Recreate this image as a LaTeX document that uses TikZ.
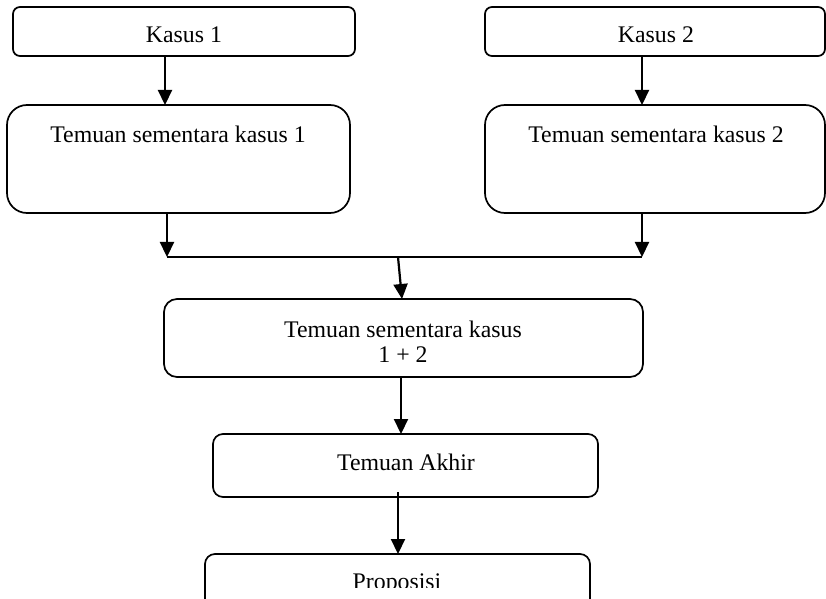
\documentclass[tikz,border=0pt]{standalone}
\usepackage{fontspec}
\setmainfont{Liberation Serif}
\usetikzlibrary{arrows.meta}
\begin{document}
\begin{tikzpicture}[x=0.5pt,y=-0.5pt,
  box/.style={draw, line width=0.85pt, inner sep=0pt, outer sep=0pt},
  lbl/.style={font=\fontsize{11.9}{13}\selectfont, anchor=base, inner sep=0pt},
  arr/.style={line width=1.1pt, -{Triangle[length=7.5pt,width=7pt]}},
  joinline/.style={line width=0.8pt}]
\useasboundingbox (0,0) rectangle (826,599);
\clip (0,0) rectangle (826,599);

% boxes
\node[box, rounded corners=3.5pt, minimum width=171pt, minimum height=24.5pt] (k1) at (184,31.5) {};
\node[box, rounded corners=3.5pt, minimum width=170pt, minimum height=24.5pt] (k2) at (655,31.5) {};
\node[box, rounded corners=10pt, minimum width=171.5pt, minimum height=54pt] (t1) at (178.5,159) {};
\node[box, rounded corners=10pt, minimum width=170pt, minimum height=54pt] (t2) at (655,159) {};
\node[box, rounded corners=6.5pt, minimum width=239.5pt, minimum height=39pt] (t12) at (403.5,338) {};
\node[box, rounded corners=5pt, minimum width=192.5pt, minimum height=31.5pt] (ta) at (405.5,465.5) {};
\node[box, rounded corners=5pt, minimum width=192.5pt, minimum height=33pt] (pr) at (397.5,587) {};

% labels
\node[lbl] (k1t) at (184,43) {Kasus 1};
\node[lbl] (k2t) at (656,43) {Kasus 2};
\node[lbl] (t1t) at (178,143) {Temuan sementara kasus 1};
\node[lbl] (t2t) at (656,143) {Temuan sementara kasus 2};
\node[lbl] (t12a) at (403,337) {Temuan sementara kasus};
\node[lbl] (t12b) at (403,363) {1 + 2};
\node[lbl] (tat) at (406,470) {Temuan Akhir};
\begin{scope}
  \clip (0,554) rectangle (826,587);
  \node[lbl] (prt) at (397,589) {Proposisi};
\end{scope}

% connectors
\coordinate (x1) at (165,0);
\coordinate (x2) at (642,0);
\coordinate (jl) at (167,257);
\coordinate (jr) at (642,257);
\coordinate (jm) at (398,257);
\coordinate (xm) at (402,0);
\coordinate (xa) at (401,0);
\coordinate (as) at (398,492);

\draw[arr] (x1 |- k1.south) -- (x1 |- t1.north);
\draw[arr] (x2 |- k2.south) -- (x2 |- t2.north);
\draw[arr] (jl |- t1.south) -- (jl);
\draw[arr] (jr |- t2.south) -- (jr);
\draw[joinline] (jl) -- (jr);
\draw[arr] (jm) -- (xm |- t12.north);
\draw[arr] (xa |- t12.south) -- (xa |- ta.north);
\draw[arr] (as) -- (as |- pr.north);
\end{tikzpicture}
\end{document}
